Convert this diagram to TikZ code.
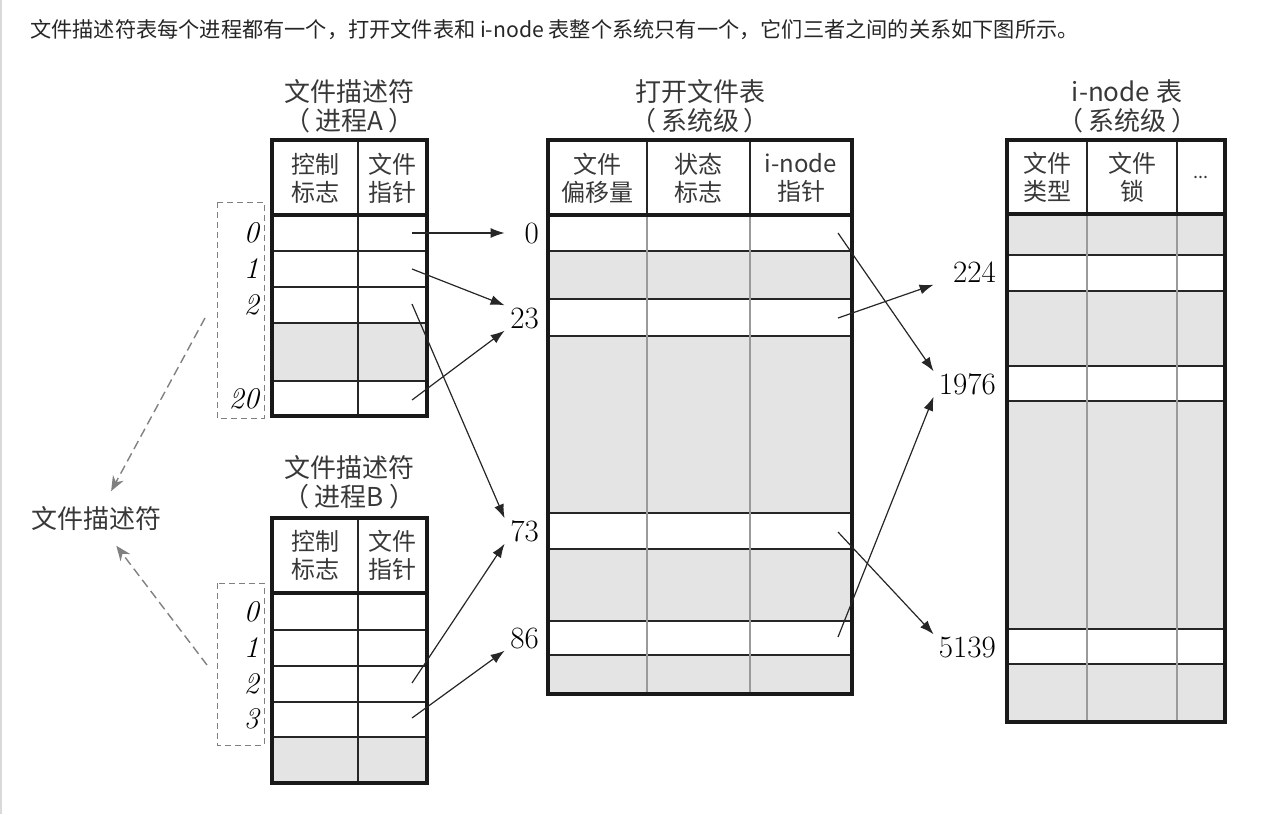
\documentclass[tikz,border=0pt]{standalone}
\usepackage[no-math]{fontspec}
\newfontfamily\cjk{Noto Sans CJK SC}
\usetikzlibrary{arrows.meta,positioning}

\definecolor{txtgray}{HTML}{383838}
\definecolor{cellgray}{HTML}{E4E4E4}
\definecolor{dashgray}{HTML}{808080}
\definecolor{colgray}{HTML}{9A9A9A}

\begin{document}
\begin{tikzpicture}[
    x=1pt, y=-1pt,
    tabtitle/.style={font=\cjk\fontsize{26}{29}\selectfont, text=txtgray, align=center},
    tabhead/.style={font=\cjk\fontsize{24}{28}\selectfont, text=txtgray, align=center},
    idx/.style={font=\itshape\fontsize{30}{30}\selectfont, anchor=east, inner sep=1pt},
    num/.style={font=\fontsize{31}{31}\selectfont, inner sep=2pt, text height=21pt, text depth=0pt, text width=#1, align=right, anchor=east},
    tblframe/.style={draw=black!90, line width=3.5pt},
    rowline/.style={draw=black!85, line width=1.3pt},
    colline/.style={draw=colgray, line width=2pt},
    arrow/.style={-{Latex[length=14pt,width=10pt]}, line width=1.2pt, draw=black!85},
    darrow/.style={-{Stealth[length=15pt,width=12pt]}, dashgray, line width=1.4pt, dash pattern=on 9pt off 5pt, shorten >=14pt},
    idxbox/.style={draw=dashgray, line width=1pt, dash pattern=on 6pt off 4pt},
]
\useasboundingbox (0,0) rectangle (1273,814);
\draw[black!15, line width=2pt] (1,0) -- (1,814);

% caption
\node[anchor=west, inner sep=0pt, font=\cjk\fontsize{21.2}{21.2}\selectfont, text=black!85] (cap) at (30,30) {文件描述符表每个进程都有一个，打开文件表和 i-node 表整个系统只有一个，它们三者之间的关系如下图所示。};

% process A
\node[tabtitle] (aT) at (349.5,106) {文件描述符\\（\hspace{5pt}进程A\hspace{5pt}）};
\fill[cellgray] (272,323) rectangle (427,381);
\foreach \y in {251,287,323,381} \draw[rowline] (272,\y) -- (427,\y);
\draw[rowline] (358,140) -- (358,416);
\draw[tblframe] (272,140) rectangle (427,416);
\draw[tblframe] (272,215) -- (427,215);
\node[tabhead] (aH1) at (315,178) {控制\\标志};
\node[tabhead] (aH2) at (392.5,178) {文件\\指针};
\draw[idxbox] (217,202) rectangle (264,418);
\node[idx] (a0) at (260,233) {0};
\node[idx] (a1) at (260,269) {1};
\node[idx] (a2) at (260,305) {2};
\node[idx] (a20) at (260,399) {20};
\coordinate (pa0) at (412,233);
\coordinate (pa1) at (412,269);
\coordinate (pa2) at (412,304);
\coordinate (pa20) at (412,400);

% process B
\node[tabtitle] (bT) at (349.5,482) {文件描述符\\（\hspace{5pt}进程B\hspace{5pt}）};
\fill[cellgray] (272,737) rectangle (427,783);
\foreach \y in {630,666,702,737} \draw[rowline] (272,\y) -- (427,\y);
\draw[rowline] (358,518) -- (358,783);
\draw[tblframe] (272,518) rectangle (427,783);
\draw[tblframe] (272,593) -- (427,593);
\node[tabhead] (bH1) at (315,555.5) {控制\\标志};
\node[tabhead] (bH2) at (392.5,555.5) {文件\\指针};
\draw[idxbox] (217,583) rectangle (264,745);
\node[idx] (b0) at (260,612) {0};
\node[idx] (b1) at (260,648) {1};
\node[idx] (b2) at (260,684) {2};
\node[idx] (b3) at (260,719) {3};
\coordinate (pb2) at (412,683);
\coordinate (pb3) at (412,718);

% left label
\node[font=\cjk\fontsize{26}{26}\selectfont, text=txtgray] (fdl) at (96,519) {文件描述符};
\coordinate (da) at (205,318);
\coordinate (db) at (207,665);
\draw[darrow] (da) -- (fdl);
\draw[darrow] (db) -- (fdl);

% open file table
\node[tabtitle] (oT) at (700,106) {打开文件表\\（\hspace{5pt}系统级\hspace{5pt}）};
\fill[cellgray] (548,251) rectangle (852,299);
\fill[cellgray] (548,336) rectangle (852,513);
\fill[cellgray] (548,549) rectangle (852,621);
\fill[cellgray] (548,655) rectangle (852,694);
\foreach \y in {251,299,336,513,549,621,655} \draw[rowline] (548,\y) -- (852,\y);
\foreach \x in {647,750} {
  \draw[colline] (\x,215) -- (\x,694);
  \draw[rowline] (\x,140) -- (\x,215);
}
\draw[tblframe] (548,140) rectangle (852,694);
\draw[tblframe] (548,215) -- (852,215);
\node[tabhead] (oH1) at (597.5,178) {文件\\偏移量};
\node[tabhead] (oH2) at (698.5,178) {状态\\标志};
\node[tabhead] (oH3) at (801,178) {i-node\\指针};
\node[num=32pt] (n0) at (541,233) {0};
\node[num=32pt] (n23) at (541,318) {23};
\node[num=32pt] (n73) at (541,531) {73};
\node[num=32pt] (n86) at (541,638) {86};
\coordinate (po0) at (838,233);
\coordinate (po23) at (838,318);
\coordinate (po73) at (838,532);
\coordinate (po86) at (838,637);

% i-node table
\node[tabtitle] (iT) at (1127,106) {i-node 表\\（\hspace{5pt}系统级\hspace{5pt}）};
\fill[cellgray] (1007,214) rectangle (1225,255);
\fill[cellgray] (1007,291) rectangle (1225,366);
\fill[cellgray] (1007,401) rectangle (1225,629);
\fill[cellgray] (1007,664) rectangle (1225,722);
\foreach \y in {255,291,366,401,629,664} \draw[rowline] (1007,\y) -- (1225,\y);
\foreach \x in {1087,1177} {
  \draw[colline] (\x,214) -- (\x,722);
  \draw[rowline] (\x,140) -- (\x,214);
}
\draw[tblframe] (1007,140) rectangle (1225,722);
\draw[tblframe] (1007,214) -- (1225,214);
\node[tabhead] (iH1) at (1047,177) {文件\\类型};
\node[tabhead] (iH2) at (1132,177) {文件\\锁};
\node[tabhead, font=\cjk\fontsize{18}{18}\selectfont] (iH3) at (1201,177) {...};
\node[num=60pt] (n224) at (998,272) {224};
\node[num=60pt] (n1976) at (998,384) {1976};
\node[num=60pt] (n5139) at (998,647) {5139};

% pointers
\draw[arrow] (pa0) -- (n0.west);
\draw[arrow] (pa1) -- (n23.north west);
\draw[arrow] (pa2) -- (n73.north west);
\draw[arrow] (pa20) -- (n23.south west);
\draw[arrow] (pb2) -- (n73.south west);
\draw[arrow] (pb3) -- (n86.south west);
\draw[arrow] (po0) -- (n1976.north west);
\draw[arrow] (po23) -- (n224.south west);
\draw[arrow] (po73) -- (n5139.north west);
\draw[arrow] (po86) -- (n1976.south west);
\end{tikzpicture}
\end{document}
